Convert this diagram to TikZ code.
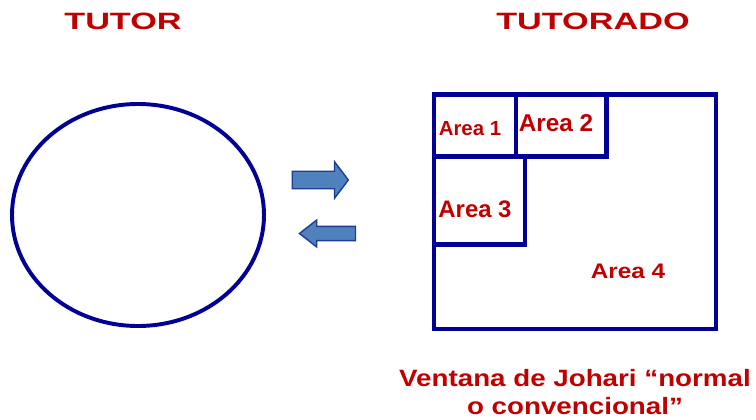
\documentclass[tikz,border=0pt]{standalone}
\usepackage{fontspec}
\setmainfont{Liberation Sans}
\usepackage{tikz}
\usetikzlibrary{shapes,positioning}
\definecolor{johariblue}{RGB}{0,0,150}
\definecolor{joharired}{RGB}{192,0,0}
\definecolor{arrowfill}{RGB}{79,129,189}
\definecolor{arrowline}{RGB}{30,60,150}
\tikzset{
  titletext/.style={anchor=base, inner sep=0pt, text=joharired, font=\fontsize{16.8}{20}\selectfont\bfseries, xscale=1.45, transform shape},
  areatext/.style={anchor=base, inner sep=0pt, text=joharired, font=\fontsize{15.5}{18}\selectfont\bfseries},
  windowline/.style={draw=johariblue, line width=3.5pt},
  swaparrow/.style={single arrow, draw=arrowline, fill=arrowfill, line width=1pt, inner xsep=0pt, minimum height=1.4cm}
}

\begin{document}
\begin{tikzpicture}[x=0.025cm, y=-0.025cm]
        \useasboundingbox (0,0) rectangle (756,420);
        % Titles of both sides
        \node[titletext] (tutor) at (123,30) {TUTOR};
        \node[titletext] (tutorado) at (593,30) {TUTORADO};

        % Tutor side, an empty ellipse
        \draw[draw=johariblue, line width=2.8pt] (138,215) ellipse [x radius=126, y radius=111];

        % Arrows between tutor and tutorado
        \node[swaparrow, inner ysep=0.2cm, single arrow head extend=0.24cm, single arrow tip angle=106] (give) at (317,180) {};
        \node[swaparrow, shape border rotate=180, inner ysep=0.16cm, single arrow head extend=0.16cm, single arrow tip angle=76] (back) at (332,233.5) {};

        % Johari window of the tutorado
        \draw[windowline] (434,94.5) rectangle (716,329);
        \draw[windowline] (516,94.5) -- (516,156.5);
        \draw[windowline] (434,156.5) -- (606.5,156.5) -- (606.5,94.5);
        \draw[windowline] (434,244.5) -- (525,244.5) -- (525,156.5);

        \node[areatext, font=\fontsize{14.5}{17}\selectfont\bfseries] (area1) at (470,136) {Area 1};
        \node[areatext, font=\fontsize{17.3}{20}\selectfont\bfseries] (area2) at (556,131) {Area 2};
        \node[areatext, font=\fontsize{17}{20}\selectfont\bfseries] (area3) at (475,217) {Area 3};
        \node[areatext, font=\fontsize{15}{18}\selectfont\bfseries, xscale=1.15, transform shape] (area4) at (628,278) {Area 4};

        % Caption below the window
        \node[titletext, anchor=base, align=center, xscale=0.81, font=\fontsize{16.8}{19.8}\selectfont\bfseries] (caption) at (575,414) {Ventana de Johari “normal\\o convencional”};
\end{tikzpicture}
\end{document}
